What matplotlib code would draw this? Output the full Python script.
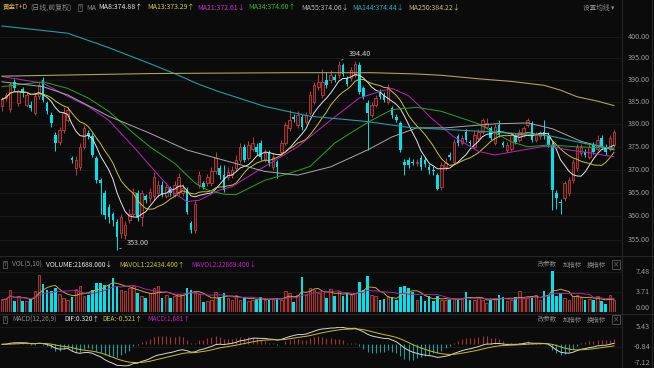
import matplotlib.pyplot as plt
import numpy as np
import pandas as pd
from matplotlib.lines import Line2D
from matplotlib.transforms import blended_transform_factory

plt.rcParams['font.family'] = ['Noto Sans CJK SC', 'DejaVu Sans']

# daily candles, oldest first
opens = [384.2, 386.0, 383.5, 389.5, 384.8, 387.9, 384.4, 384.4, 382.6, 386.3,
         390.0, 384.8, 382.1, 377.6, 376.1, 378.7, 380.9, 372.5, 370.3, 370.6,
         375.0, 378.0, 377.3, 372.5, 367.7, 364.9, 362.0, 360.5, 358.8, 356.4,
         356.0, 359.2, 360.5, 364.9, 359.9, 364.2, 363.8, 364.2, 364.9, 366.7,
         364.2, 366.0, 364.5, 365.2, 364.9, 365.6, 358.5, 357.1, 366.7, 367.0,
         367.0, 367.0, 369.6, 370.3, 368.8, 368.4, 368.8, 370.3, 372.1, 375.0,
         372.5, 374.6, 375.0, 375.8, 372.1, 373.6, 370.6, 371.7, 373.9, 375.8,
         379.1, 381.7, 379.8, 381.7, 380.6, 382.5, 385.1, 388.4, 386.6, 390.0,
         390.0, 390.7, 391.1, 393.4, 390.4, 390.4, 391.1, 393.4, 388.1, 384.8,
         382.1, 384.4, 387.3, 386.6, 385.1, 383.6, 381.7, 380.2, 371.7, 372.1,
         371.7, 371.4, 372.5, 372.2, 370.6, 370.0, 368.8, 366.3, 370.6, 373.2,
         371.7, 377.3, 375.8, 378.3, 376.1, 375.0, 376.9, 378.3, 379.4, 379.1,
         375.8, 379.8, 375.8, 374.3, 374.6, 377.3, 376.5, 377.6, 379.8, 380.2,
         376.5, 377.3, 378.3, 377.6, 375.4, 364.9, 363.1, 363.8, 364.9, 367.7,
         370.3, 373.6, 373.9, 372.8, 375.4, 374.6, 376.9, 375.0, 374.6, 375.4]
highs = [386.2, 387.0, 389.5, 390.3, 388.0, 388.5, 387.2, 385.2, 387.0, 389.5,
         390.8, 385.3, 382.8, 378.2, 379.5, 383.8, 384.0, 373.0, 373.0, 375.8,
         379.8, 378.8, 378.0, 373.0, 368.2, 365.6, 362.5, 361.0, 359.5, 360.5,
         359.0, 361.5, 366.0, 365.5, 365.6, 364.8, 366.0, 369.5, 367.8, 367.5,
         367.0, 366.5, 367.5, 369.2, 366.8, 366.3, 359.0, 363.5, 369.8, 367.6,
         369.0, 370.5, 373.8, 371.0, 371.0, 370.5, 370.8, 373.2, 375.8, 375.6,
         376.2, 377.2, 375.8, 376.6, 374.5, 374.3, 373.6, 372.2, 376.5, 380.5,
         383.2, 382.3, 383.0, 382.3, 382.8, 387.5, 389.6, 391.5, 392.6, 391.9,
         392.3, 391.3, 394.4, 394.0, 391.0, 393.0, 394.3, 394.1, 388.7, 385.4,
         385.0, 386.6, 387.9, 387.2, 389.2, 384.2, 382.3, 380.8, 372.3, 372.8,
         372.3, 372.4, 373.2, 372.8, 371.2, 370.8, 369.3, 371.6, 372.5, 373.8,
         376.8, 377.9, 377.5, 379.0, 376.6, 378.4, 379.0, 381.3, 381.3, 379.7,
         380.0, 380.9, 376.3, 376.0, 378.3, 377.9, 379.0, 379.7, 381.3, 380.8,
         378.2, 378.6, 380.9, 378.2, 376.0, 365.5, 363.6, 367.6, 368.3, 372.3,
         375.6, 375.6, 374.6, 375.6, 376.0, 377.6, 377.5, 375.6, 377.5, 378.8]
lows = [383.0, 385.2, 382.8, 387.5, 384.0, 386.2, 383.8, 383.0, 382.0, 385.8,
        385.0, 382.3, 379.5, 374.0, 375.5, 378.0, 380.5, 371.5, 368.8, 370.0,
        374.5, 376.8, 372.8, 367.0, 360.5, 359.5, 358.5, 358.0, 353.0, 355.5,
        355.2, 358.5, 360.0, 359.0, 358.0, 362.8, 363.0, 363.5, 364.0, 364.0,
        363.8, 364.2, 364.0, 364.5, 364.3, 360.5, 356.4, 356.5, 366.0, 365.8,
        366.5, 366.5, 369.0, 368.0, 365.2, 367.8, 368.2, 369.8, 371.5, 371.6,
        372.0, 374.0, 373.3, 372.2, 371.6, 370.8, 370.0, 368.1, 373.3, 375.3,
        378.6, 380.5, 379.2, 378.8, 380.0, 382.0, 384.5, 387.8, 386.0, 388.2,
        389.4, 389.6, 390.5, 390.9, 388.6, 389.8, 390.6, 386.8, 385.6, 374.3,
        381.6, 383.8, 385.6, 384.9, 384.6, 381.5, 380.4, 373.8, 368.8, 370.4,
        370.9, 370.8, 369.9, 370.5, 369.0, 368.8, 365.6, 365.7, 370.0, 372.2,
        371.0, 375.2, 375.3, 376.0, 375.2, 374.5, 376.4, 377.8, 379.0, 376.4,
        375.3, 377.1, 374.9, 373.8, 374.1, 375.6, 376.0, 377.1, 379.3, 376.0,
        376.0, 376.8, 376.8, 374.9, 361.3, 361.6, 360.4, 363.2, 364.4, 367.2,
        369.8, 373.0, 372.7, 372.3, 373.4, 374.1, 374.5, 373.3, 374.1, 374.9]
closes = [385.6, 386.5, 389.0, 388.2, 387.4, 387.0, 386.6, 383.7, 386.3, 388.8,
          385.5, 382.9, 380.2, 375.8, 378.7, 382.5, 383.2, 372.1, 372.2, 375.0,
          379.1, 377.3, 373.2, 367.7, 367.0, 360.2, 359.9, 359.2, 355.7, 359.9,
          358.1, 360.5, 365.2, 359.9, 364.9, 363.4, 365.2, 368.4, 366.7, 364.5,
          366.3, 364.9, 366.7, 368.4, 366.0, 360.9, 357.1, 362.7, 368.8, 366.3,
          368.4, 369.6, 372.5, 368.8, 365.6, 369.5, 369.9, 372.1, 375.0, 372.1,
          375.4, 375.8, 373.9, 372.8, 373.6, 371.4, 372.8, 370.6, 375.8, 379.8,
          380.9, 381.1, 382.1, 379.4, 382.1, 386.6, 388.8, 389.6, 389.6, 388.8,
          391.1, 390.1, 393.4, 391.5, 389.2, 392.3, 393.8, 387.3, 386.2, 382.5,
          384.4, 385.9, 386.2, 385.5, 388.4, 382.1, 380.9, 374.3, 371.0, 371.0,
          371.4, 371.7, 370.6, 371.2, 369.9, 369.8, 365.9, 371.0, 371.5, 372.7,
          376.1, 375.8, 376.9, 376.5, 375.8, 377.6, 378.3, 380.9, 380.2, 376.9,
          379.4, 377.6, 375.4, 375.4, 377.6, 376.1, 378.3, 379.1, 380.9, 376.5,
          377.6, 378.0, 377.3, 375.4, 365.6, 363.8, 362.8, 367.0, 367.7, 371.7,
          375.0, 375.0, 373.2, 375.0, 373.9, 376.5, 375.0, 373.9, 376.9, 378.3]
volumes = [22300, 24200, 41200, 19200, 28600, 19200, 19200, 24200, 38000, 69400,
           52500, 41200, 38000, 44300, 33000, 25400, 22300, 26700, 43000, 47400,
           28600, 31700, 41200, 53700, 53700, 50600, 50600, 63200, 47400, 41200,
           38000, 44300, 47400, 34900, 28600, 25400, 34900, 44300, 47400, 25400,
           31700, 25400, 28600, 33000, 31700, 44300, 41200, 36800, 33000, 17300,
           20400, 22300, 36100, 26700, 34900, 25400, 22300, 31700, 22300, 26700,
           20400, 22300, 22300, 26700, 22300, 22300, 24200, 25400, 22300, 38000,
           34900, 17900, 30500, 65000, 31700, 44300, 41200, 34900, 39300, 25400,
           42400, 28600, 38000, 28600, 33000, 31700, 34900, 55000, 41200, 66900,
           31700, 28600, 22300, 24200, 28600, 26700, 22300, 45600, 47400, 44300,
           36000, 22300, 28600, 19200, 28600, 20400, 28600, 22300, 22300, 22300,
           25400, 22300, 25400, 36800, 22300, 22300, 26700, 22300, 16000, 22300,
           25400, 30500, 26700, 19200, 22300, 26700, 38000, 25400, 25400, 25400,
           31700, 22300, 38000, 31700, 77000, 28600, 34900, 25400, 22300, 28600,
           31700, 26700, 22300, 24200, 22300, 28600, 20400, 14100, 30500, 21688]

ma21_x = [0, 4, 10, 16, 21, 26, 32, 37, 42, 45, 48, 53, 56, 64, 72, 80, 87, 92, 95,
          99, 102, 104, 110, 116, 120, 125, 132, 134, 138, 143, 149]
ma21_y = [390.8, 390.2, 389.3, 386.3, 384.0, 380.9, 375.0, 369.9, 364.9, 363.1,
          363.4, 365.6, 366.3, 370.7, 375.0, 380.9, 385.9, 387.4, 388.1, 386.4,
          383.8, 381.8, 377.2, 374.0, 373.2, 374.0, 375.1, 375.0, 374.3, 373.7, 372.8]
ma34_x = [0, 10, 16, 21, 26, 32, 36, 42, 47, 50, 54, 57, 64, 70, 75, 81, 86, 90, 95,
          101, 107, 116, 124, 128, 133, 140, 149]
ma34_y = [388.5, 389.6, 388.1, 385.9, 382.9, 378.0, 375.0, 371.4, 367.1, 365.6,
          364.7, 364.6, 367.7, 369.2, 370.7, 375.8, 378.7, 380.9, 383.3, 383.8,
          382.9, 380.1, 376.1, 375.0, 375.4, 375.0, 374.7]
ma55_x = [0, 10, 16, 26, 36, 45, 53, 64, 72, 80, 89, 95, 101, 108, 120, 128, 134,
          141, 149]
ma55_y = [389.6, 388.5, 386.6, 381.8, 378.0, 374.3, 372.3, 369.6, 368.8, 370.6,
          374.3, 377.2, 379.2, 379.2, 380.1, 380.3, 379.0, 376.2, 374.3]
ma144_x = [0, 16, 26, 36, 42, 48, 53, 64, 75, 89, 99, 119, 133, 141, 149]
ma144_y = [402.6, 400.9, 397.5, 393.8, 391.5, 389.0, 387.3, 384.0, 381.8, 380.6,
           379.3, 378.3, 377.5, 375.9, 374.5]
ma250_x = [0, 18, 36, 53, 70, 90, 101, 107, 116, 124, 132, 136, 140, 145, 149]
ma250_y = [390.9, 391.2, 391.5, 391.6, 391.7, 391.7, 391.4, 391.1, 390.3, 389.7,
           388.8, 387.7, 386.2, 385.2, 384.2]

price_ticks = [400, 395, 390, 385, 380, 375, 370, 365, 360, 355]

bg = '#0b0b0b'
grid = '#1b1b1b'
up_edge = '#b8413f'
up_face = '#3a1212'
down_col = '#00e1ee'
label_col = '#9a9a9a'
W, H = 654, 368


def px(x, y):
    return x / W, 1 - y / H


fig = plt.figure(figsize=(6.54, 3.68), dpi=100, facecolor=bg)

o = np.array(opens)
h = np.array(highs)
l = np.array(lows)
c = np.array(closes)
x = np.arange(len(c))
up = c >= o
xlim = (-0.49, 150.96)

# ---- price panel
ax = fig.add_axes([0, 1 - 253 / H, 622 / W, 235 / H])
ax.set_facecolor(bg)
ax.set_yscale('log')
ax.set_ylim(352.3, 404.5)
ax.set_xlim(*xlim)
for p in price_ticks:
    ax.axhline(p, color=grid, lw=0.6, zorder=0)

ax.vlines(x[up], l[up], h[up], color=up_edge, lw=0.7, zorder=2)
ax.vlines(x[~up], l[~up], h[~up], color=down_col, lw=0.7, zorder=2)
body_lo = np.minimum(o, c)
body_h = np.maximum(np.abs(c - o), 0.12)
ax.bar(x[up], body_h[up], bottom=body_lo[up], width=0.62, facecolor=up_face,
       edgecolor=up_edge, lw=0.6, zorder=3)
ax.bar(x[~up], body_h[~up], bottom=body_lo[~up], width=0.62, color=down_col,
       lw=0, zorder=3)

s = pd.Series(c)
ax.plot(x, s.rolling(8, min_periods=1).mean(), color='#e4e4e4', lw=0.7, zorder=4)
ax.plot(x, s.rolling(13, min_periods=1).mean(), color='#c9c235', lw=0.7, zorder=4)
ax.plot(ma21_x, ma21_y, color='#c21fc4', lw=0.7, zorder=4)
ax.plot(ma34_x, ma34_y, color='#22a822', lw=0.7, zorder=4)
ax.plot(ma55_x, ma55_y, color='#a9a9a9', lw=0.7, zorder=4)
ax.plot(ma144_x, ma144_y, color='#1f9cab', lw=0.8, zorder=4)
ax.plot(ma250_x, ma250_y, color='#aaa25e', lw=0.8, zorder=4)

hi = int(np.argmax(h))
lo = int(np.argmin(l))
ax.annotate(f'{h[hi]:.2f}', xy=(hi, h[hi]), xytext=(7, 5), textcoords='offset points',
            color='#d0d0d0', fontsize=5.2, va='center', ha='left',
            arrowprops=dict(arrowstyle='-', color='#d0d0d0', lw=0.5))
ax.annotate(f'{l[lo]:.2f}', xy=(lo, l[lo]), xytext=(7, 5), textcoords='offset points',
            color='#d0d0d0', fontsize=5.2, va='center', ha='left',
            arrowprops=dict(arrowstyle='-', color='#d0d0d0', lw=0.5))

tr = blended_transform_factory(ax.transAxes, ax.transData)
for p in price_ticks:
    ax.text(650 / 622, p, f'{p:.2f}', transform=tr, ha='right', va='center',
            color=label_col, fontsize=5.2, clip_on=False)

# ---- volume panel
v = np.array(volumes) / 10000
ax2 = fig.add_axes([0, 1 - 311.5 / H, 622 / W, 41.5 / H])
ax2.set_facecolor(bg)
ax2.set_xlim(*xlim)
ax2.set_ylim(0, 7.82)
for t in [7.48, 3.71]:
    ax2.axhline(t, color=grid, lw=0.6, zorder=0)
ax2.bar(x[up], v[up], width=0.62, facecolor=up_face, edgecolor=up_edge, lw=0.6, zorder=2)
ax2.bar(x[~up], v[~up], width=0.62, color=down_col, lw=0, zorder=2)
vs = pd.Series(v)
ax2.plot(x, vs.rolling(5, min_periods=1).mean(), color='#b9b21e', lw=0.7, zorder=3)
ax2.plot(x, vs.rolling(10, min_periods=1).mean(), color='#b21fb4', lw=0.7, zorder=3)
tr2 = blended_transform_factory(ax2.transAxes, ax2.transData)
for t, va in [(7.48, 'center'), (3.71, 'center'), (0.0, 'bottom')]:
    ax2.text(650 / 622, t, f'{t:.2f}', transform=tr2, ha='right', va=va,
             color=label_col, fontsize=5.2, clip_on=False)

# ---- MACD panel
ema12 = s.ewm(span=12, adjust=False).mean()
ema26 = s.ewm(span=26, adjust=False).mean()
dif = ema12 - ema26
dea = dif.ewm(span=9, adjust=False).mean()
hist = 2 * (dif - dea)
ax3 = fig.add_axes([0, 1 - 367 / H, 622 / W, 40 / H])
ax3.set_facecolor(bg)
ax3.set_xlim(*xlim)
ax3.set_ylim(-7.12, 5.43)
for t in [5.43, -0.84]:
    ax3.axhline(t, color=grid, lw=0.6, zorder=0)
pos = hist >= 0
ax3.vlines(x[pos], 0, hist[pos], color='#a33434', lw=0.8, zorder=2)
ax3.vlines(x[~pos], 0, hist[~pos], color='#1f9a9e', lw=0.8, zorder=2)
ax3.plot(x, dif, color='#d6d6d6', lw=0.7, zorder=3)
ax3.plot(x, dea, color='#c9c020', lw=0.7, zorder=3)
tr3 = blended_transform_factory(ax3.transAxes, ax3.transData)
for t, va in [(5.43, 'center'), (-0.84, 'center'), (-7.12, 'bottom')]:
    ax3.text(650 / 622, t, f'{t:.2f}', transform=tr3, ha='right', va=va,
             color=label_col, fontsize=5.2, clip_on=False)

for a in (ax, ax2, ax3):
    a.set_xticks([])
    a.set_yticks([])
    a.set_yticks([], minor=True)
    for sp in a.spines.values():
        sp.set_visible(False)

# ---- separators
sep = '#262626'
fig.add_artist(Line2D([622 / W, 622 / W], [0, 1], color=sep, lw=0.8))
fig.add_artist(Line2D([652 / W, 652 / W], [0, 1], color=sep, lw=0.8))
for yy in (256, 314):
    fig.add_artist(Line2D([0, 1], [1 - yy / H] * 2, color=sep, lw=0.8))


# ---- header texts
def label(xp, yp, txt, col, size=5.0, box=False):
    kw = {}
    if box:
        kw['bbox'] = dict(boxstyle='square,pad=0.12', fc='none', ec='#6a6a6a', lw=0.5)
    fig.text(*px(xp, yp), txt, color=col, fontsize=size, ha='left', va='center', **kw)


label(3, 7.5, '黄金T+D', '#e6bd3c', 4.7)
label(30, 7.5, '(日线,前复权)', '#8a8a8a', 5.0)
label(78.5, 7.5, '?', '#8a8a8a', 4.2, box=True)
label(86, 7.5, 'MA', '#8a8a8a')
label(98, 7.5, 'MA8:374.88↑', '#e4e4e4')
label(147, 7.5, 'MA13:373.29↑', '#d2cb3a')
label(197, 7.5, 'MA21:372.61↓', '#cf2ed1')
label(248, 7.5, 'MA34:374.60↑', '#2cbc2c')
label(301, 7.5, 'MA55:374.06↓', '#b4b4b4')
label(352, 7.5, 'MA144:374.44↓', '#22aebe')
label(408, 7.5, 'MA250:384.22↓', '#c4bc78')
label(583, 7.5, '设置均线 ▾', '#8a8a8a', 4.8)

label(4, 264.5, '?', '#8a8a8a', 4.2, box=True)
label(12, 264.5, 'VOL(5,10)', '#8a8a8a', 4.8)
label(46, 264.5, 'VOLUME:21688.000↓', '#e4e4e4', 4.8)
label(119, 264.5, 'MAVOL1:22434.400↑', '#c9c235', 4.8)
label(191, 264.5, 'MAVOL2:22869.400↓', '#c21fc4', 4.8)

label(4, 319.5, '?', '#8a8a8a', 4.2, box=True)
label(12, 319.5, 'MACD(12,26,9)', '#8a8a8a', 4.8)
label(64, 319.5, 'DIF:0.320↑', '#e4e4e4', 4.8)
label(102, 319.5, 'DEA:-0.521↑', '#c9c235', 4.8)
label(147, 319.5, 'MACD:1.681↑', '#c21fc4', 4.8)

for yy in (264.5, 319.5):
    label(538, yy, '改参数', '#8a8a8a', 4.6)
    label(563, yy, '加指标', '#8a8a8a', 4.6)
    label(587, yy, '换指标', '#8a8a8a', 4.6)
    label(613, yy, '×', '#8a8a8a', 4.6, box=True)

fig.savefig('out.png', dpi=100, facecolor=bg)
